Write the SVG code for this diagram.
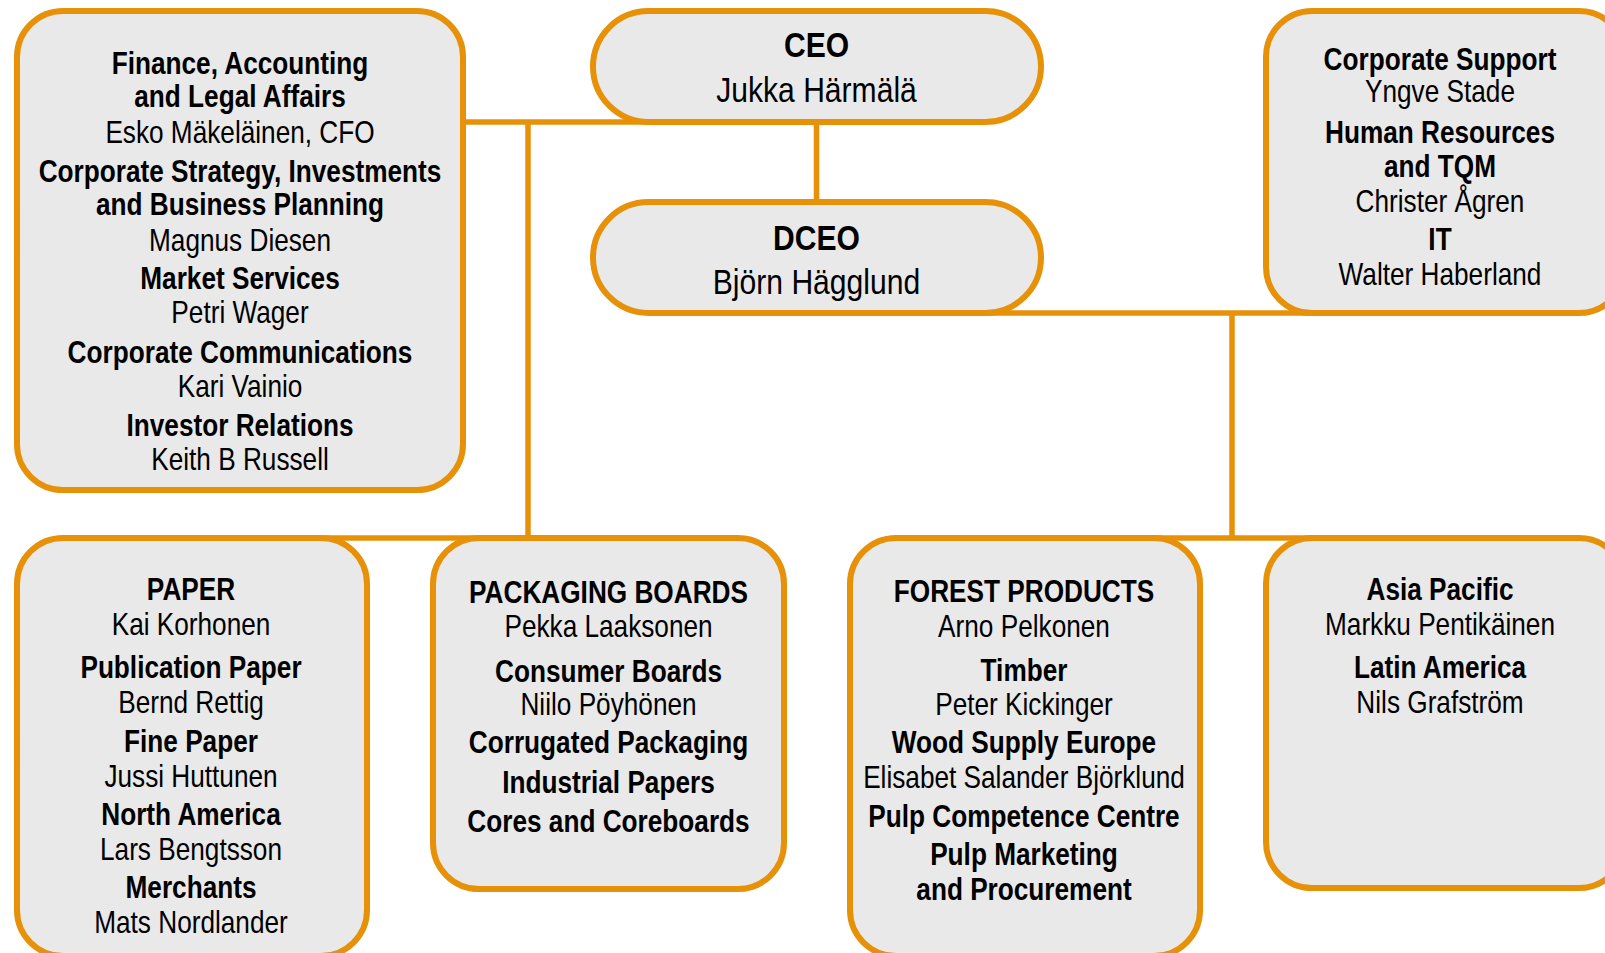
<svg xmlns="http://www.w3.org/2000/svg" width="1605" height="953" viewBox="0 0 1605 953">
<style>
.box{fill:#E9E9E9;stroke:#E69108;stroke-width:6}
.ln{stroke:#E69108;stroke-width:5.5;fill:none}
text{font-family:"Liberation Sans",Arial,sans-serif;font-size:31px;fill:#000;text-anchor:middle}
.b{font-weight:bold}
.big{font-size:35px}
</style>
<rect width="1605" height="953" fill="#fff"/>
<g id="connectors">
<line class="ln" x1="460" y1="122" x2="660" y2="122"/>
<line class="ln" x1="528" y1="122" x2="528" y2="538"/>
<line class="ln" x1="816.5" y1="122" x2="816.5" y2="203"/>
<line class="ln" x1="980" y1="313" x2="1330" y2="313"/>
<line class="ln" x1="1232" y1="313" x2="1232" y2="538"/>
<line class="ln" x1="100" y1="538" x2="720" y2="538"/>
<line class="ln" x1="1000" y1="538" x2="1400" y2="538"/>
</g>
<g id="staff-left">
<rect class="box" x="17" y="11" width="446" height="479" rx="46"/>
<g transform="translate(240,0) scale(0.845,1)">
<text class="b" y="74">Finance, Accounting</text>
<text class="b" y="107">and Legal Affairs</text>
<text y="143">Esko Mäkeläinen, CFO</text>
<text class="b" y="182">Corporate Strategy, Investments</text>
<text class="b" y="215">and Business Planning</text>
<text y="251">Magnus Diesen</text>
<text class="b" y="289">Market Services</text>
<text y="323">Petri Wager</text>
<text class="b" y="363">Corporate Communications</text>
<text y="397">Kari Vainio</text>
<text class="b" y="436">Investor Relations</text>
<text y="470">Keith B Russell</text>
</g>
</g>
<g id="ceo">
<rect class="box" x="593" y="11" width="448" height="111" rx="55.5"/>
<g transform="translate(816.5,0) scale(0.86,1)">
<text class="b big" y="57">CEO</text>
<text class="big" y="102">Jukka Härmälä</text>
</g>
</g>
<g id="dceo">
<rect class="box" x="593" y="202" width="448" height="111" rx="55.5"/>
<g transform="translate(816.5,0) scale(0.86,1)">
<text class="b big" y="250">DCEO</text>
<text class="big" y="294">Björn Hägglund</text>
</g>
</g>
<g id="corporate-support">
<rect class="box" x="1266" y="11" width="359" height="302" rx="46"/>
<g transform="translate(1440,0) scale(0.845,1)">
<text class="b" y="70">Corporate Support</text>
<text y="102">Yngve Stade</text>
<text class="b" y="143">Human Resources</text>
<text class="b" y="177">and TQM</text>
<text y="212">Christer Ågren</text>
<text class="b" y="250">IT</text>
<text y="285">Walter Haberland</text>
</g>
</g>
<g id="paper">
<rect class="box" x="17" y="538" width="350" height="418" rx="46"/>
<g transform="translate(191,0) scale(0.845,1)">
<text class="b" y="600">PAPER</text>
<text y="635">Kai Korhonen</text>
<text class="b" y="678">Publication Paper</text>
<text y="713">Bernd Rettig</text>
<text class="b" y="752">Fine Paper</text>
<text y="787">Jussi Huttunen</text>
<text class="b" y="825">North America</text>
<text y="860">Lars Bengtsson</text>
<text class="b" y="898">Merchants</text>
<text y="933">Mats Nordlander</text>
</g>
</g>
<g id="packaging-boards">
<rect class="box" x="433" y="538" width="351" height="351" rx="46"/>
<g transform="translate(608.5,0) scale(0.845,1)">
<text class="b" y="603">PACKAGING BOARDS</text>
<text y="637">Pekka Laaksonen</text>
<text class="b" y="682">Consumer Boards</text>
<text y="715">Niilo Pöyhönen</text>
<text class="b" y="753">Corrugated Packaging</text>
<text class="b" y="793">Industrial Papers</text>
<text class="b" y="832">Cores and Coreboards</text>
</g>
</g>
<g id="forest-products">
<rect class="box" x="850" y="538" width="350" height="418" rx="46"/>
<g transform="translate(1024,0) scale(0.845,1)">
<text class="b" y="602">FOREST PRODUCTS</text>
<text y="637">Arno Pelkonen</text>
<text class="b" y="681">Timber</text>
<text y="715">Peter Kickinger</text>
<text class="b" y="753">Wood Supply Europe</text>
<text y="788">Elisabet Salander Björklund</text>
<text class="b" y="827">Pulp Competence Centre</text>
<text class="b" y="865">Pulp Marketing</text>
<text class="b" y="900">and Procurement</text>
</g>
</g>
<g id="regions">
<rect class="box" x="1266" y="538" width="359" height="350" rx="46"/>
<g transform="translate(1440,0) scale(0.845,1)">
<text class="b" y="600">Asia Pacific</text>
<text y="635">Markku Pentikäinen</text>
<text class="b" y="678">Latin America</text>
<text y="713">Nils Grafström</text>
</g>
</g>
</svg>
